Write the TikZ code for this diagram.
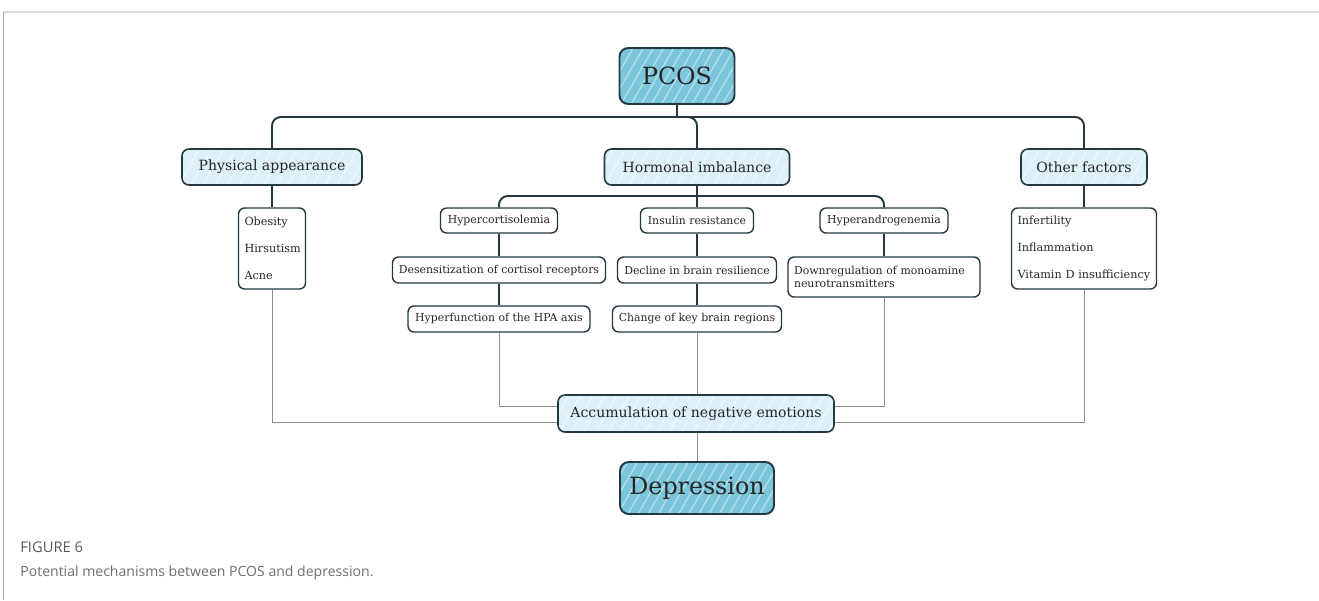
\documentclass[tikz,border=0pt]{standalone}
\usepackage{fontspec}
\setmainfont{DejaVu Serif}
\newfontfamily\capfont{Open Sans}
\usetikzlibrary{patterns.meta}
\definecolor{pcosblue}{HTML}{7CC6DC}
\definecolor{palebox}{HTML}{DDF0F7}
\definecolor{edgeblue}{HTML}{23393F}
\definecolor{feedgray}{HTML}{8A8F92}
\definecolor{capgray}{HTML}{6E6E6E}
\definecolor{framegray}{HTML}{DADADA}
\tikzset{
  boxsize/.style 2 args={minimum width=#1*0.02cm, minimum height=#2*0.02cm},
  mainbox/.style={draw=edgeblue, line width=1.1pt, rounded corners=5pt, inner sep=0pt,
    preaction={fill=pcosblue},
    pattern={Lines[angle=60,distance=5pt,line width=0.7pt]}, pattern color=white!45!pcosblue,
    text=black!85, font=\fontsize{13.5}{16}\selectfont},
  catbox/.style={draw=edgeblue, line width=0.9pt, rounded corners=4pt, inner sep=0pt,
    preaction={fill=palebox},
    pattern={Lines[angle=60,distance=6pt,line width=0.5pt]}, pattern color=white!70!palebox,
    text=black!85, font=\fontsize{8}{10}\selectfont},
  subbox/.style={draw=edgeblue, line width=0.8pt, rounded corners=3.5pt, inner sep=0pt,
    fill=white, text=black!85, font=\fontsize{6.2}{7.4}\selectfont},
  listbox/.style={subbox, inner xsep=0.12cm, align=left, font=\fontsize{6.4}{15.4}\selectfont},
  tree/.style={draw=edgeblue, line width=1.1pt},
  feed/.style={draw=feedgray, line width=0.5pt},
}
\begin{document}
\begin{tikzpicture}[x=0.02cm, y=-0.02cm]
  \useasboundingbox (0,0) rectangle (1319,600);
  % frame
  \draw[framegray, line width=1.2pt] (3,12) -- (1319,12);
  \draw[framegray!80!black, line width=0.4pt] (3,12) -- (3,600);

  % top
  \node[mainbox, boxsize={115}{56}] (pcos) at (677,76) {PCOS};
  \node[catbox, boxsize={180}{36}] (phys) at (272,167) {Physical appearance};
  \node[catbox, boxsize={185}{36}] (horm) at (697,167) {Hormonal imbalance};
  \node[catbox, boxsize={126}{36}] (other) at (1084,167) {Other factors};

  % lists
  \node[listbox, boxsize={67}{81}, text width=1.1cm] (physlist) at (272,248.5)
    {Obesity\\Hirsutism\\Acne};
  \node[listbox, boxsize={145}{81}, text width=2.66cm] (otherlist) at (1084,248.5)
    {Infertility\\Inflammation\\Vitamin D insufficiency};

  % hormonal branches
  \node[subbox, boxsize={117}{25}] (hyco) at (499,220.5) {Hypercortisolemia};
  \node[subbox, boxsize={113}{25}] (insu) at (697,220.5) {Insulin resistance};
  \node[subbox, boxsize={128}{25}] (hyan) at (884,220.5) {Hyperandrogenemia};
  \node[subbox, boxsize={213}{26}] (desens) at (499,270) {Desensitization of cortisol receptors};
  \node[subbox, boxsize={159}{26}] (decl) at (697,270) {Decline in brain resilience};
  \node[subbox, boxsize={192}{40}, inner xsep=0.12cm, text width=3.6cm, align=left] (down) at (884,277)
    {Downregulation of monoamine\\neurotransmitters};
  \node[subbox, boxsize={182}{26}] (hpa) at (499,319) {Hyperfunction of the HPA axis};
  \node[subbox, boxsize={169}{26}] (brain) at (697,319) {Change of key brain regions};

  % bottom
  \node[catbox, boxsize={276}{37}] (accu) at (696,413.5) {Accumulation of negative emotions};
  \node[mainbox, boxsize={154}{52}] (dep) at (697,488) {Depression};

  % tree
  \draw[tree] (pcos.south) -- (677,117);
  \draw[tree, rounded corners=5pt] (phys.north) |- (other.north |- 0,117) -- (other.north);
  \draw[tree, rounded corners=5pt] (677,117) -| (horm.north);
  \draw[tree] (phys.south) -- (physlist.north);
  \draw[tree] (other.south) -- (otherlist.north);
  \draw[tree] (horm.south) -- (insu.north);
  \draw[tree, rounded corners=5pt] (hyco.north) |- (hyan.north |- 0,196) -- (hyan.north);
  \draw[tree] (hyco.south) -- (desens.north);
  \draw[tree] (desens.south) -- (hpa.north);
  \draw[tree] (insu.south) -- (decl.north);
  \draw[tree] (decl.south) -- (brain.north);
  \draw[tree] (hyan.south) -- (down.north);

  % feeds
  \draw[feed] (physlist.south) |- (accu.west |- 0,422);
  \draw[feed] (hpa.south) |- (accu.west |- 0,406);
  \draw[feed] (brain.south) -- (accu.north -| brain.south);
  \draw[feed] (down.south) |- (accu.east |- 0,406);
  \draw[feed] (otherlist.south) |- (accu.east |- 0,422);
  \draw[feed] (accu.south -| dep.north) -- (dep.north);

  % caption
  \node[anchor=base west, inner sep=0pt, text=capgray!80!black, font=\capfont\fontsize{8.4}{10}\selectfont] (fig) at (20,552) {FIGURE 6};
  \node[anchor=base west, inner sep=0pt, text=capgray, font=\capfont\fontsize{8}{10}\selectfont] (cap) at (20,576)
    {Potential mechanisms between PCOS and depression.};
\end{tikzpicture}
\end{document}
